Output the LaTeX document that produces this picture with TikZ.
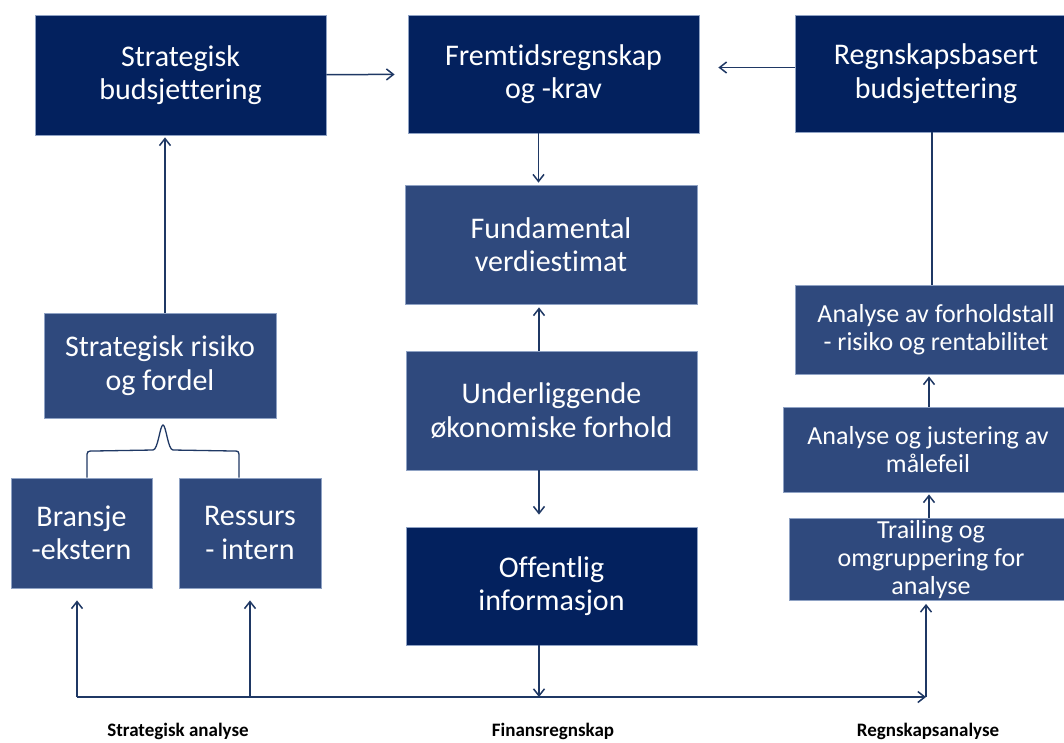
\documentclass[tikz,border=0pt]{standalone}
\usepackage{fontspec}
\setmainfont{Carlito}[Ligatures=NoCommon]
\usetikzlibrary{arrows.meta}
\definecolor{navy}{HTML}{03215E}
\definecolor{midblue}{HTML}{2F497D}
\definecolor{edgeblue}{HTML}{8FA2C4}
\definecolor{linkblue}{HTML}{1F3864}
\tikzset{
  darkbox/.style={rectangle, fill=navy, draw=edgeblue, line width=0.8pt,
    inner sep=0pt, align=center, text=white,
    font=\fontsize{30}{33.5}\selectfont},
  litebox/.style={rectangle, fill=midblue, draw=edgeblue, line width=0.8pt,
    inner sep=0pt, align=center, text=white,
    font=\fontsize{30}{33.5}\selectfont},
  smallbox/.style={litebox, font=\fontsize{26}{28}\selectfont},
  arr/.style={draw=linkblue, line width=1.5pt,
    -{Straight Barb[length=7pt,width=11pt,line width=1.5pt]}},
  link/.style={draw=linkblue, line width=1.5pt},
  caption/.style={inner sep=0pt, anchor=base, font=\fontsize{19}{22}\bfseries\selectfont}
}
\begin{document}
\begin{tikzpicture}[x=1pt,y=-1pt]
\clip (0,0) rectangle (1064,742);
\fill[white] (0,0) rectangle (1064,742);

% top row
\node[darkbox, minimum width=291pt, minimum height=120pt] (sb) at (180.5,75) {Strategisk\\budsjettering};
\node[darkbox, minimum width=291pt, minimum height=118pt] (fr) at (553.5,74) {Fremtidsregnskap\\og -krav};
\node[darkbox, minimum width=282pt, minimum height=117pt] (rb) at (936,73.5) {Regnskapsbasert\\budsjettering};

% centre column
\node[litebox, minimum width=292pt, minimum height=119pt] (fv) at (551,244.5) {Fundamental\\verdiestimat};
\node[litebox, minimum width=291pt, minimum height=119pt] (uf) at (551.5,410.5) {Underliggende\\økonomiske forhold};
\node[darkbox, minimum width=291pt, minimum height=118pt] (oi) at (551.5,586) {Offentlig\\informasjon};

% left column
\node[litebox, minimum width=232pt, minimum height=105pt] (sr) at (160,365.5) {Strategisk risiko\\og fordel};
\node[litebox, minimum width=141pt, minimum height=110pt] (be) at (81.5,533) {Bransje\\-ekstern};
\node[litebox, minimum width=142pt, minimum height=110pt] (ri) at (250,533) {Ressurs\\- intern};

% right column
\node[smallbox, minimum width=282pt, minimum height=89pt] (af) at (936,329.5) {Analyse av forholdstall\\- risiko og rentabilitet};
\node[smallbox, minimum width=290pt, minimum height=85pt] (aj) at (928,449.5) {Analyse og justering av\\målefeil};
\node[smallbox, minimum width=284pt, minimum height=82pt] (tr) at (931,559.5) {Trailing og\\omgruppering for\\analyse};

% bottom bus line
\coordinate (busL) at (77,697);
\coordinate (busM) at (250,697);
\coordinate (busR) at (926,697);

% captions
\node[caption] (capS) at (178,736) {Strategisk analyse};
\node[caption] (capF) at (553,736) {Finansregnskap};
\node[caption] (capR) at (928,736) {Regnskapsanalyse};

% connectors, top row
\draw[arr, shorten >=13pt] (sb) -- (fr);
\draw[arr, shorten >=19pt] ([yshift=6pt]rb.west) -- ([yshift=6pt]rb.west -| fr.east);
\draw[arr, shorten >=2pt] ([xshift=-15pt]fr.south) -- ([xshift=-15pt]fr.south |- fv.north);
\draw[link] ([xshift=-4pt]rb.south) -- ([xshift=-4pt]rb.south |- af.north);

% centre column
\draw[arr, shorten >=3pt] ([xshift=-12.5pt]uf.north) -- ([xshift=-12.5pt]uf.north |- fv.south);
\draw[arr, shorten >=12pt] ([xshift=-12.5pt]uf.south) -- ([xshift=-12.5pt]uf.south |- oi.north);
\draw[arr] ([xshift=-12.5pt]oi.south) -- ([xshift=-12.5pt]oi.south |- busL);

% left column
\draw[arr, shorten >=2pt] ([xshift=5pt]sr.north) -- ([xshift=5pt]sr.north |- sb.south);
% curly brace grouping the two lower boxes
\draw[link, line width=1.3pt]
  ([xshift=5.5pt]be.north) -- (87,458) .. controls (87,451) .. (94,451)
  -- (153,450) .. controls (158,450) and (160,425) .. (163,425)
  .. controls (166,425) and (168,450) .. (173,450)
  -- (233,451) .. controls (239,451) .. (239,458) -- ([xshift=-11pt]ri.north);

% right column
\draw[arr, shorten >=2pt] ([xshift=1pt]aj.north) -- ([xshift=1pt]aj.north |- af.south);
\draw[arr, shorten >=2pt] ([xshift=-2pt]tr.north) -- ([xshift=-2pt]tr.north |- aj.south);

% bus and branches
\draw[arr] (busL) -- (busR);
\draw[arr, shorten >=12pt] (busL) -- (busL |- be.south);
\draw[arr, shorten >=12pt] (busM) -- (busM |- ri.south);
\draw[arr, shorten >=3pt] (busR) -- (busR |- tr.south);
\end{tikzpicture}
\end{document}
